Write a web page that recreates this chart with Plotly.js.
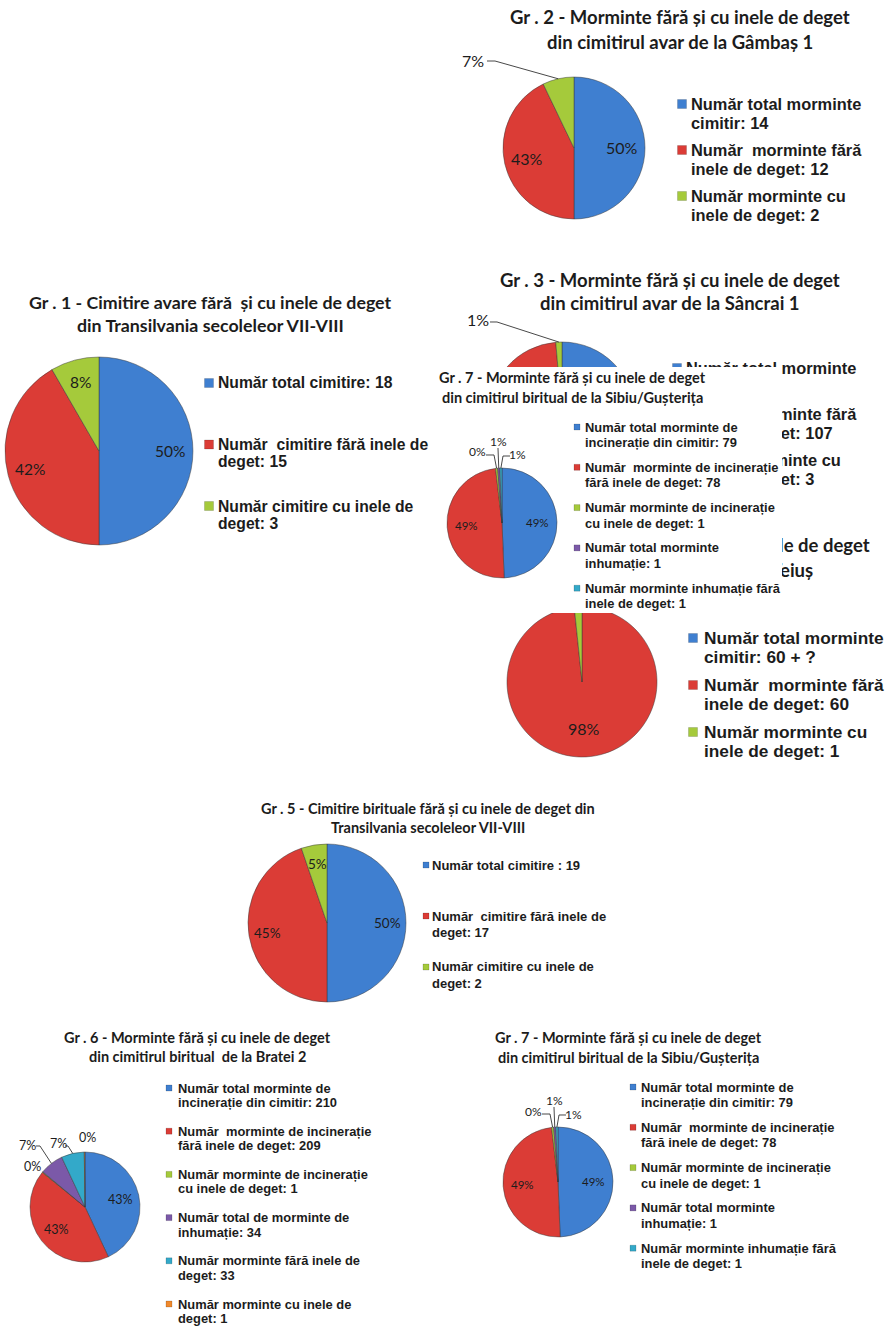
<!DOCTYPE html>
<html><head><meta charset="utf-8">
<script src="https://cdn.plot.ly/plotly-3.0.1.min.js"></script>
<style>
html,body{margin:0;padding:0;background:#fff;}
#wrap{position:relative;width:889px;height:1327px;overflow:hidden;}
#main{position:absolute;left:0;top:0;width:889px;height:1327px;}
#inset{position:absolute;left:430px;top:367px;width:352px;height:246px;background:#fff;}
</style></head><body>
<div id="wrap"><div id="main"></div><div id="inset"></div></div>
<script>
// ---------------- DATA ----------------
const colorsSeries = ['#3f7fd0', '#db3c36', '#a5ca3b', '#7b59a8', '#33a9c9', '#f0892c'];

const g1Title = ['Gr . 1 - Cimitire avare fără  și cu inele de deget', 'din Transilvania secoleleor VII-VIII'];
const g1Labels = ['Număr total cimitire:', 'Număr  cimitire fără inele de deget:', 'Număr cimitire cu inele de deget:'];
const g1Values = [18, 15, 3];

const g2Title = ['Gr . 2 - Morminte fără și cu inele de deget', 'din cimitirul avar de la Gâmbaș 1'];
const g2Labels = ['Număr total morminte cimitir:', 'Număr  morminte fără inele de deget:', 'Număr morminte cu inele de deget:'];
const g2Values = [14, 12, 2];

const g3Title = ['Gr . 3 - Morminte fără și cu inele de deget', 'din cimitirul avar de la Sâncrai 1'];
const g3Labels = ['Număr total morminte cimitir:', 'Număr  morminte fără inele de deget:', 'Număr morminte cu inele de deget:'];
const g3Values = [110, 107, 3];

const g4Title = ['Gr . 4 - Morminte fără și cu inele de deget', 'din cimitirul avar de la Teiuș'];
const g4Labels = ['Număr total morminte cimitir:', 'Număr  morminte fără inele de deget:', 'Număr morminte cu inele de deget:'];
const g4Values = [0, 60, 1];
const g4LegendValues = ['60 + ?', '60', '1'];

const g5Title = ['Gr . 5 - Cimitire birituale fără și cu inele de deget din', 'Transilvania secoleleor VII-VIII'];
const g5Labels = ['Număr total cimitire :', 'Număr  cimitire fără inele de deget:', 'Număr cimitire cu inele de deget:'];
const g5Values = [19, 17, 2];

const g6Title = ['Gr . 6 - Morminte fără și cu inele de deget', 'din cimitirul biritual  de la Bratei 2'];
const g6Labels = ['Număr total morminte de incinerație din cimitir:', 'Număr  morminte de incinerație fără inele de deget:',
  'Număr morminte de incinerație cu inele de deget:', 'Număr total de morminte de inhumație:',
  'Număr morminte fără inele de deget:', 'Număr morminte cu inele de deget:'];
const g6Values = [210, 209, 1, 34, 33, 1];

const g7Title = ['Gr . 7 - Morminte fără și cu inele de deget', 'din cimitirul biritual de la Sibiu/Gușterița'];
const g7Labels = ['Număr total morminte de incinerație din cimitir:', 'Număr  morminte de incinerație fără inele de deget:',
  'Număr morminte de incinerație cu inele de deget:', 'Număr total morminte inhumație:',
  'Număr morminte inhumație fără inele de deget:'];
const g7Values = [79, 78, 1, 1, 1];
const g7PctLabels = ['49%', '49%', '0%', '1%', '1%'];

// ---------------- HELPERS ----------------
const FONT_T = 'Lato, "Open Sans", sans-serif';
const FONT_L = '"Liberation Sans", Arial, sans-serif';
const INK = '#1c1c1c';

function makeCtx(W, H) { return {W, H, traces: [], shapes: [], annotations: []}; }
function X(c, x) { return x / c.W; }
function Y(c, y) { return 1 - y / c.H; }
function pct(values) {
  const s = values.reduce((a, b) => a + b, 0);
  return values.map(v => Math.round(v / s * 100) + '%');
}
function wrap(text, limit) {
  const toks = text.split(' '); const lines = []; let cur = null;
  for (const t of toks) {
    if (cur === null) { cur = t; continue; }
    if ((cur + ' ' + t).length > limit) { lines.push(cur); cur = t; } else cur = cur + ' ' + t;
  }
  if (cur !== null) lines.push(cur);
  return lines;
}
function addPie(c, o) {
  c.traces.push({
    type: 'pie', values: o.values, labels: o.labels, sort: false, direction: 'clockwise', rotation: 0,
    marker: {colors: colorsSeries.slice(0, o.values.length), line: {color: 'rgba(55,55,55,0.6)', width: 0.8}},
    textinfo: 'none', hoverinfo: 'skip', showlegend: false,
    domain: {x: [X(c, o.cx - o.r), X(c, o.cx + o.r)], y: [Y(c, o.cy + o.r), Y(c, o.cy - o.r)]}
  });
}
function midPoint(o, i, k) {
  const s = o.values.reduce((a, b) => a + b, 0);
  let cum = 0; for (let j = 0; j < i; j++) cum += o.values[j];
  const a = (cum + o.values[i] / 2) / s * 2 * Math.PI;
  return [o.cx + k * o.r * Math.sin(a), o.cy - k * o.r * Math.cos(a)];
}
function label(c, text, x, y, fs) {
  c.annotations.push({xref: 'paper', yref: 'paper', x: X(c, x), y: Y(c, y), text: text, showarrow: false,
    xanchor: 'center', yanchor: 'middle', font: {family: FONT_T, size: fs, color: INK}});
}
function insideLabels(c, o, idx, texts, k, fs) {
  idx.forEach(i => { const p = midPoint(o, i, k); label(c, texts[i], p[0], p[1], fs); });
}
function callout(c, o, i, text, lx, ly, pts, fs) {
  label(c, text, lx, ly, fs);
  if (pts) {
    const all = pts.concat([midPoint(o, i, 1)]);
    const path = all.map((p, k) => (k ? 'L' : 'M') + X(c, p[0]).toFixed(5) + ',' + Y(c, p[1]).toFixed(5)).join(' ');
    c.shapes.push({type: 'path', xref: 'paper', yref: 'paper', path: path, line: {color: '#333', width: 0.9}});
  }
}
function addTitle(c, lines, cx, ys, fs) {
  lines.forEach((t, k) => c.annotations.push({xref: 'paper', yref: 'paper', x: X(c, cx), y: Y(c, ys[k]), text: t,
    showarrow: false, xanchor: 'center', yanchor: 'middle', font: {family: FONT_T, size: fs, color: INK, weight: 700}}));
}
function addLegend(c, labels, vals, o) {
  labels.forEach((lab, i) => {
    const lines = wrap(lab + ' ' + vals[i], o.limit);
    const y = o.y0 + i * o.pitch;
    c.shapes.push({type: 'rect', xref: 'paper', yref: 'paper',
      x0: X(c, o.sqX - o.sq / 2), x1: X(c, o.sqX + o.sq / 2), y0: Y(c, y + o.sq / 2), y1: Y(c, y - o.sq / 2),
      fillcolor: colorsSeries[i], line: {color: 'rgba(0,0,0,0.3)', width: 0.5}});
    lines.forEach((t, k) => c.annotations.push({xref: 'paper', yref: 'paper', x: X(c, o.tx), y: Y(c, y + k * o.gap),
      text: t, showarrow: false, xanchor: 'left', yanchor: 'middle',
      font: {family: FONT_L, size: o.fs, color: INK, weight: 700}}));
  });
}

// ---------------- MAIN FIGURE ----------------
const M = makeCtx(889, 1327);

// Gr. 1
const p1 = {cx: 99, cy: 451, r: 94, values: g1Values};
addPie(M, p1);
insideLabels(M, p1, [0, 1, 2], pct(g1Values), 0.76, 15.5);
addTitle(M, g1Title, 210, [302, 325], 17.8);
addLegend(M, g1Labels, g1Values, {sqX: 209, tx: 216, y0: 383, pitch: 61.5, gap: 17, fs: 15.7, sq: 9, limit: 30});

// Gr. 2
const p2 = {cx: 574, cy: 148, r: 71, values: g2Values};
addPie(M, p2);
insideLabels(M, p2, [0, 1], pct(g2Values), 0.68, 16);
addTitle(M, g2Title, 680, [17, 42], 18.5);
addLegend(M, g2Labels, g2Values, {sqX: 682, tx: 689, y0: 104, pitch: 46, gap: 19, fs: 16.4, sq: 9, limit: 22});
callout(M, p2, 2, pct(g2Values)[2], 473, 60, [[487, 61], [495, 61]], 16);

// Gr. 3
const p3 = {cx: 562, cy: 415, r: 73, values: g3Values};
addPie(M, p3);
addTitle(M, g3Title, 670, [280, 303], 18.5);
addLegend(M, g3Labels, g3Values, {sqX: 677, tx: 684, y0: 368, pitch: 46, gap: 19, fs: 16.4, sq: 9, limit: 22});
callout(M, p3, 2, pct(g3Values)[2], 478, 320, [[490, 322], [497, 322]], 16);

// Gr. 4
const p4 = {cx: 582, cy: 682, r: 75, values: g4Values};
addPie(M, p4);
insideLabels(M, p4, [1], pct(g4Values), 0.62, 16);
addTitle(M, g4Title, 700, [545, 570], 18.5);
addLegend(M, g4Labels, g4LegendValues, {sqX: 693, tx: 702, y0: 638, pitch: 47, gap: 18.5, fs: 17.3, sq: 9, limit: 22});

// Gr. 5
const p5 = {cx: 327, cy: 923, r: 79, values: g5Values};
addPie(M, p5);
insideLabels(M, p5, [0, 1, 2], pct(g5Values), 0.76, 13.5);
addTitle(M, g5Title, 428, [808, 827], 14.5);
addLegend(M, g5Labels, g5Values, {sqX: 426, tx: 430, y0: 865, pitch: 51, gap: 16, fs: 13, sq: 6, limit: 30});

// Gr. 6
const p6 = {cx: 85, cy: 1207, r: 55, values: g6Values};
addPie(M, p6);
const pc6 = pct(g6Values);
insideLabels(M, p6, [0, 1], pc6, 0.66, 12.5);
addTitle(M, g6Title, 197, [1037, 1056], 14.5);
addLegend(M, g6Labels, g6Values, {sqX: 169, tx: 176, y0: 1088, pitch: 43.2, gap: 14.5, fs: 12.9, sq: 6, limit: 30});
callout(M, p6, 3, pc6[3], 27, 1145, [[36, 1146], [40, 1146]], 12.5);
callout(M, p6, 2, pc6[2], 32, 1166, null, 12.5);
callout(M, p6, 4, pc6[4], 58, 1143, [[65, 1146], [68, 1146]], 12.5);
callout(M, p6, 5, pc6[5], 87, 1137, null, 12.5);

// Gr. 7 (two copies: bottom chart and the pasted inset)
function drawG7(c, cx, cy, tcx, tys, leg) {
  const p = {cx, cy, r: 55, values: g7Values};
  addPie(c, p);
  insideLabels(c, p, [0, 1], g7PctLabels, 0.64, 11.5);
  addTitle(c, g7Title, tcx, tys, 14.5);
  addLegend(c, g7Labels, g7Values, leg);
  callout(c, p, 2, g7PctLabels[2], cx - 25, cy - 71, [[cx - 16, cy - 68], [cx - 8, cy - 68]], 12);
  callout(c, p, 3, g7PctLabels[3], cx - 4, cy - 82, [[cx - 4, cy - 75]], 12);
  callout(c, p, 4, g7PctLabels[4], cx + 15, cy - 68, [[cx + 8, cy - 67], [cx + 1, cy - 67]], 12);
}
drawG7(M, 558, 1182, 628, [1037, 1057],
  {sqX: 633, tx: 639, y0: 1087, pitch: 40.3, gap: 15.5, fs: 12.9, sq: 6, limit: 30});

const layoutBase = (c) => ({width: c.W, height: c.H, margin: {l: 0, r: 0, t: 0, b: 0},
  paper_bgcolor: '#ffffff', plot_bgcolor: '#ffffff', showlegend: false,
  shapes: c.shapes, annotations: c.annotations});
Plotly.newPlot('main', M.traces, layoutBase(M), {staticPlot: true, displayModeBar: false});

// ---------------- INSET (pasted copy of Gr. 7, covering parts of Gr. 3 and Gr. 4) ----------------
const I = makeCtx(352, 246);
drawG7(I, 72, 156, 142, [11, 30],
  {sqX: 147, tx: 153, y0: 60, pitch: 40.3, gap: 15.5, fs: 12.9, sq: 6, limit: 30});
Plotly.newPlot('inset', I.traces, layoutBase(I), {staticPlot: true, displayModeBar: false});
</script>
</body></html>
